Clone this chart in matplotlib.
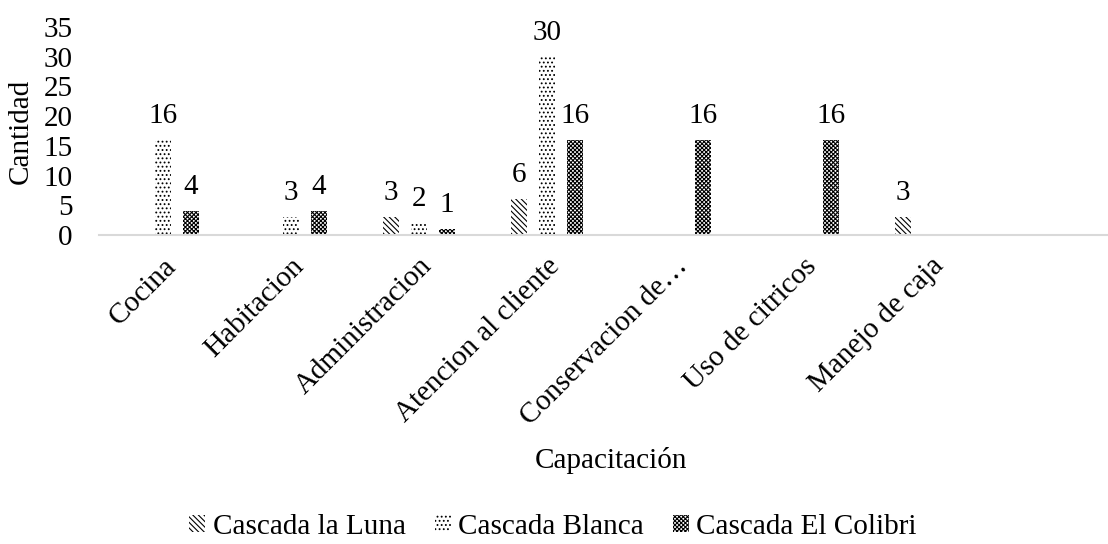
import matplotlib.pyplot as plt
import numpy as np
from matplotlib.patches import Patch

plt.rcParams['font.family'] = ['Liberation Serif', 'DejaVu Serif']
plt.rcParams['hatch.linewidth'] = 0.8

categories = ['Cocina', 'Habitacion', 'Administracion', 'Atencion al cliente',
              'Conservacion de…', 'Uso de citricos', 'Manejo de caja']
series_names = ['Cascada la Luna', 'Cascada Blanca', 'Cascada El Colibri']
luna = [0, 0, 3, 6, 0, 0, 3]
blanca = [16, 3, 2, 30, 0, 0, 0]
colibri = [4, 4, 1, 16, 16, 16, 0]

hatches = ['\\\\\\\\\\\\', '....', 'xxxxxxxx']
FS = 21

fig = plt.figure(figsize=(11.08, 5.44), dpi=100)
ax = fig.add_axes([99 / 1108, 1 - 235 / 544, 1 - 99 / 1108, (235 - 27) / 544])

x = np.arange(len(categories))
width = 0.125
offset = 0.219
for i, (vals, h) in enumerate(zip([luna, blanca, colibri], hatches)):
    pos = x + (i - 1) * offset
    bars = ax.bar(pos, vals, width, facecolor='white', edgecolor='black',
                  hatch=h, linewidth=0)
    for b, v in zip(bars, vals):
        if v > 0:
            ax.annotate(str(v), (b.get_x() + b.get_width() / 2, v),
                        xytext=(0, 8), textcoords='offset points',
                        ha='center', va='bottom', fontsize=FS)

ax.set_xlim(-0.5, -0.5 + 1009 / 128)
ax.set_ylim(0, 35)
ax.set_yticks(range(0, 36, 5))
ax.set_xticks(x)
ax.set_xticklabels(categories, rotation=45, ha='right', rotation_mode='anchor',
                   fontsize=FS)
ax.tick_params(axis='both', length=0, labelsize=FS)
ax.tick_params(axis='x', pad=13)
ax.tick_params(axis='y', pad=19)
for s in ['top', 'right', 'left']:
    ax.spines[s].set_visible(False)
ax.spines['bottom'].set_color('#d9d9d9')
ax.spines['bottom'].set_linewidth(1.5)

ax.set_ylabel('Cantidad', fontsize=FS, labelpad=7)
fig.text(611 / 1108, 1 - 460 / 544, 'Capacitación', ha='center',
         va='center', fontsize=FS)

handles = [Patch(facecolor='white', edgecolor='black', hatch=h, linewidth=0)
           for h in hatches]
fig.legend(handles, series_names, loc='center', bbox_to_anchor=(553 / 1108, 1 - 527 / 544),
           ncol=3, frameon=False, fontsize=FS, handlelength=0.55, handleheight=0.55,
           handletextpad=0.25, columnspacing=1.0)

fig.savefig('out.png', dpi=100)
